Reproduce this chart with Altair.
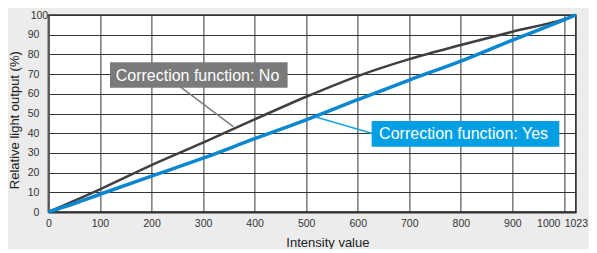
import altair as alt
import pandas as pd

# ---- data ----
intensity_yes = [0, 50, 100, 200, 300, 400, 500, 600, 700, 800, 900, 1000, 1023]
output_yes = [0, 4.3, 9.0, 18.2, 27.3, 37.2, 46.8, 57.0, 67.0, 76.6, 87.2, 97.5, 100]

intensity_no = [0, 100, 200, 300, 400, 500, 600, 700, 800, 900, 1000, 1023]
output_no = [0, 11.5, 23.8, 35.2, 47.0, 58.5, 69.0, 77.6, 84.8, 91.5, 97.9, 100]

x_ticks = [0, 100, 200, 300, 400, 500, 600, 700, 800, 900, 1000, 1023]
y_ticks = [0, 10, 20, 30, 40, 50, 60, 70, 80, 90, 100]

labels = ["Correction function: No", "Correction function: Yes"]

FONT = "Liberation Sans"
DARK = "#3f3f3f"
BLUE = "#0b87d1"
BOX_GREY = "#7a7a7a"
BOX_BLUE = "#009fe3"

df_yes = pd.DataFrame({"x": intensity_yes, "y": output_yes})
df_no = pd.DataFrame({"x": intensity_no, "y": output_no})

# annotation boxes (data coordinates)
boxes = pd.DataFrame({
    "label": labels,
    "x1": [119.5, 627.0], "x2": [464.0, 991.0],
    "y1": [63.1, 33.1], "y2": [76.0, 46.2],
    "tx": [130.5, 641.5], "ty": [69.2, 39.4],
    "c": [BOX_GREY, BOX_BLUE],
})
leaders = pd.DataFrame({
    "x1": [255.3, 520.4], "y1": [63.6, 48.1],
    "x2": [358.6, 627.0], "y2": [43.3, 40.0],
    "c": ["#7f7f7f", "#1aa3e2"],
})

xscale = alt.Scale(domain=[0, 1023], nice=False, zero=False)
yscale = alt.Scale(domain=[0, 100], nice=False)

xaxis = alt.Axis(
    values=x_ticks, ticks=False, grid=True, gridColor="#333333", gridWidth=1,
    domainColor="#333333", domainWidth=2, labelFont=FONT, labelFontSize=10.5,
    labelColor="#333333", labelPadding=6, labelFlush=False, labelOverlap=False,
    labelBound=False, format="d",
    labelAlign=alt.condition("datum.value == 1000", alt.value("right"), alt.value("center")),
    labelOffset=alt.condition("datum.value == 1000", alt.value(-4), alt.value(0)),
    title="Intensity value", titleFont=FONT, titleFontSize=13, titleFontWeight="normal",
    titleColor="#222222", titleX=279, titleY=34, titleBaseline="alphabetic",
)
yaxis = alt.Axis(
    values=y_ticks, ticks=False, grid=True, gridColor="#333333", gridWidth=1,
    domainColor="#5a5a5a", domainWidth=2, labelFont=FONT, labelFontSize=10.5,
    labelColor="#333333", labelPadding=9.5, labelOverlap=False, labelFlush=False,
    labelAlign=alt.condition("datum.value == 100", alt.value("center"), alt.value("right")),
    title="Relative light output (%)", titleFont=FONT, titleFontSize=13,
    titleFontWeight="normal", titleColor="#222222", titleAngle=270,
    titleX=-29.5, titleY=104.7, titleBaseline="alphabetic", titleAlign="center",
)


def X(field):
    return alt.X(field, scale=xscale, axis=xaxis, title="Intensity value")


def Y(field):
    return alt.Y(field, scale=yscale, axis=yaxis, title="Relative light output (%)")


base_no = alt.Chart(df_no).mark_line(
    color=DARK, strokeWidth=2.5, interpolate="monotone"
).encode(x=X("x:Q"), y=Y("y:Q"))
line_yes = alt.Chart(df_yes).mark_line(
    color=BLUE, strokeWidth=3.5, interpolate="monotone"
).encode(x=X("x:Q"), y=Y("y:Q"))
leader_marks = alt.Chart(leaders).mark_rule(strokeWidth=1.6).encode(
    x=X("x1:Q"), y=Y("y1:Q"), x2="x2:Q", y2="y2:Q",
    color=alt.Color("c:N", scale=None),
)
box_marks = alt.Chart(boxes).mark_rect().encode(
    x=X("x1:Q"), x2="x2:Q", y=Y("y1:Q"), y2="y2:Q",
    color=alt.Color("c:N", scale=None),
)
text_marks = alt.Chart(boxes).mark_text(
    align="left", baseline="middle", font=FONT, fontSize=16, color="white"
).encode(
    x=X("tx:Q"), y=Y("ty:Q"), text="label:N",
)

chart = alt.layer(base_no, line_yes, leader_marks, box_marks, text_marks).properties(
    width=527.4, height=197,
    autosize=alt.AutoSizeParams(type="none"),
    padding={"left": 40.4, "top": 7, "right": 13.2, "bottom": 37},
    background="#ececec",
).configure_view(fill="white", stroke="#333333", strokeWidth=1.5)

chart.save("out.html", embed_options={"renderer": "svg", "actions": False})
